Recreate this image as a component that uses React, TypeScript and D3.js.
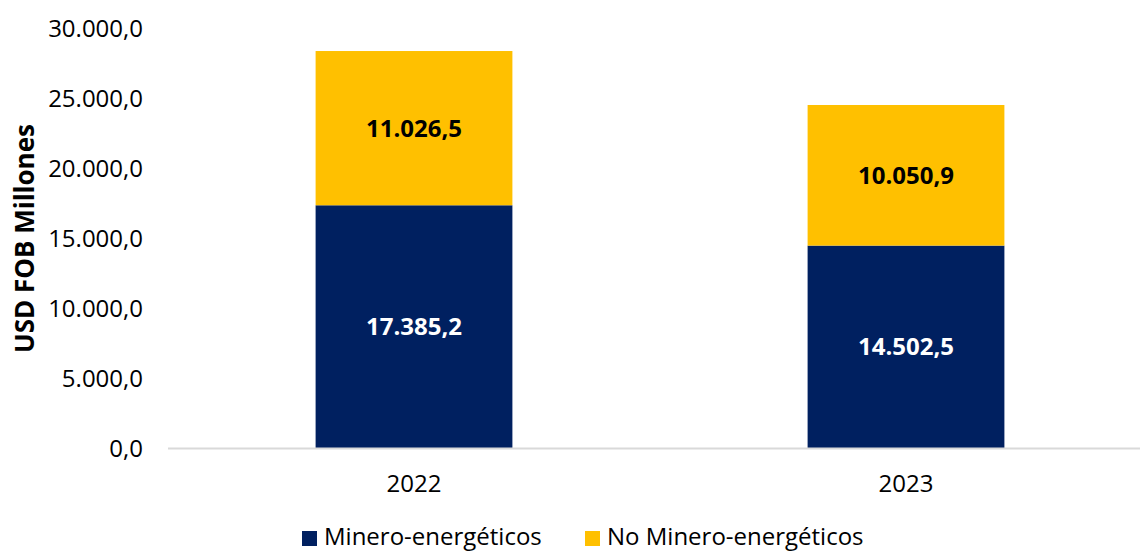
import React from "react";
import * as d3 from "d3";

const categories = ["2022", "2023"];
const mineroValues = [17385.2, 14502.5];
const noMineroValues = [11026.5, 10050.9];
const yTicks = [0, 5000, 10000, 15000, 20000, 25000, 30000];
const seriesNames = ["Minero-energéticos", "No Minero-energéticos"];
const seriesColors = ["#002060", "#FFC000"];
const labelColors = ["#ffffff", "#000000"];

const W = 1140;
const H = 552;
const FONT = "'Open Sans', 'Noto Sans', sans-serif";

const fmt = (v: number, d: number) => {
  const s = v.toFixed(d);
  const [int, dec] = s.split(".");
  const intF = int.replace(/\B(?=(\d{3})+(?!\d))/g, ".");
  return dec !== undefined ? `${intF},${dec}` : intF;
};

export default function App() {
  const x = d3
    .scaleBand<string>()
    .domain(categories)
    .range([168, 1152])
    .paddingInner(0.6)
    .paddingOuter(0.3);
  const y = d3.scaleLinear().domain([0, 30000]).range([448.5, 28.8]);

  const rows = categories.map((c, i) => ({
    cat: c,
    v0: mineroValues[i],
    v1: noMineroValues[i],
  }));
  const stack = d3.stack<any>().keys(["v0", "v1"]);
  const stacked = stack(rows);

  return (
    <svg
      width={W}
      height={H}
      style={{ position: "absolute", left: 0, top: 0, background: "#fff" }}
      fontFamily={FONT}
    >
      {/* y tick labels */}
      {yTicks.map((t) => (
        <text
          key={t}
          x={143}
          y={y(t)}
          dy="0.35em"
          textAnchor="end"
          fontSize={24}
          fill="#000"
        >
          {fmt(t, 1)}
        </text>
      ))}
      {/* y title */}
      <text
        transform={`translate(33.5,${238.5}) rotate(-90)`}
        textAnchor="middle"
        fontSize={26}
        fontWeight="bold"
        fill="#000"
      >
        USD FOB Millones
      </text>
      {/* bars */}
      {stacked.map((s, si) =>
        s.map((d, i) => (
          <rect
            key={`${si}-${i}`}
            x={x(categories[i])}
            y={y(d[1])}
            width={x.bandwidth()}
            height={y(d[0]) - y(d[1])}
            fill={seriesColors[si]}
          />
        ))
      )}
      {/* data labels */}
      {stacked.map((s, si) =>
        s.map((d, i) => (
          <text
            key={`l${si}-${i}`}
            x={(x(categories[i]) as number) + x.bandwidth() / 2}
            y={(y(d[0]) + y(d[1])) / 2}
            dy="0.35em"
            textAnchor="middle"
            fontSize={24}
            fontWeight="bold"
            fill={labelColors[si]}
          >
            {fmt(d[1] - d[0], 1)}
          </text>
        ))
      )}
      {/* x axis line */}
      <line x1={168} x2={W} y1={y(0)} y2={y(0)} stroke="#d9d9d9" strokeWidth={2} />
      {/* x labels */}
      {categories.map((c) => (
        <text
          key={c}
          x={(x(c) as number) + x.bandwidth() / 2}
          y={492}
          textAnchor="middle"
          fontSize={24}
          fill="#000"
        >
          {c}
        </text>
      ))}
      {/* legend */}
      {seriesNames.map((n, i) => {
        const lx = [302, 585][i];
        return (
          <g key={n}>
            <rect x={lx} y={531} width={15} height={15} fill={seriesColors[i]} />
            <text x={lx + 22} y={545} fontSize={24} fill="#000">
              {n}
            </text>
          </g>
        );
      })}
    </svg>
  );
}
